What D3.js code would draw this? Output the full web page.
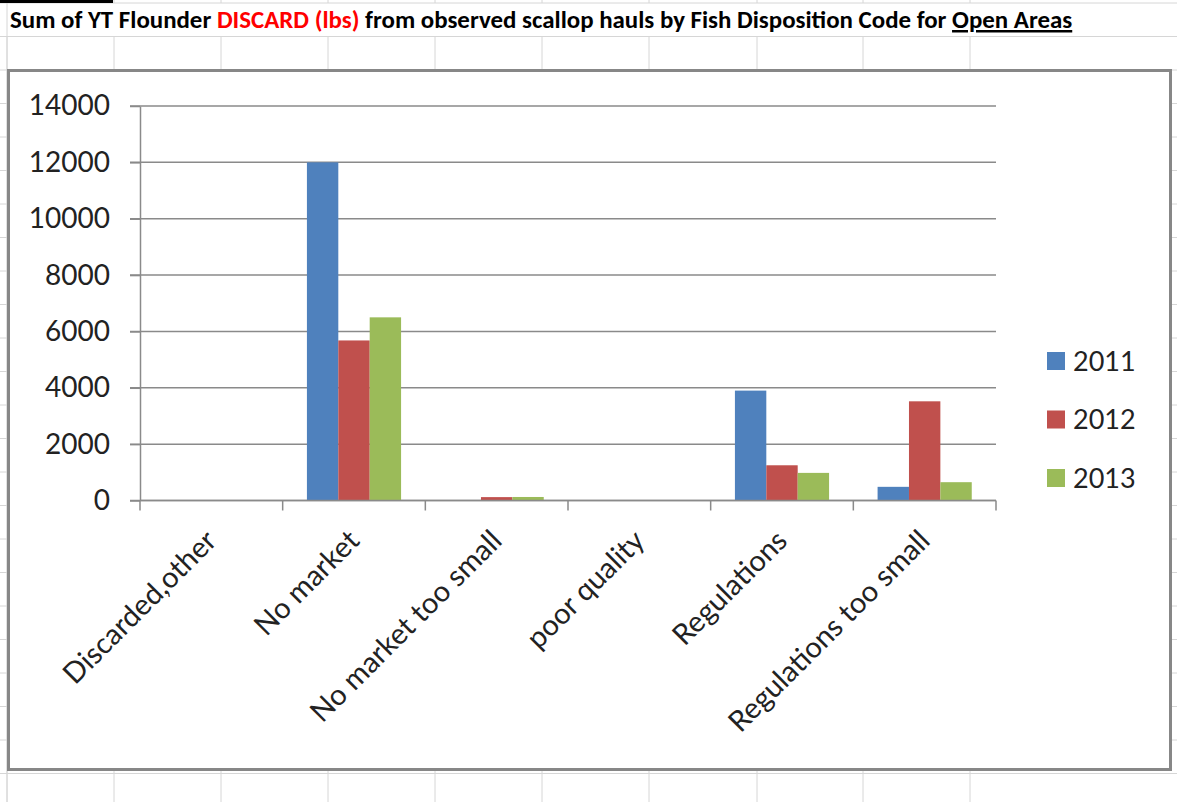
<!DOCTYPE html>
<html><head><meta charset="utf-8">
<script src="https://cdn.jsdelivr.net/npm/d3@7"></script>
<style>
html,body{margin:0;padding:0;background:#fff;}
svg{display:block;}
</style></head>
<body>
<svg id="c" width="1177" height="802"></svg>
<script>
// ---- data ----
const categories = ["Discarded,other","No market","No market too small","poor quality","Regulations","Regulations too small"];
const years = ["2011","2012","2013"];
const values2011 = [0, 12000, 0, 0, 3900, 485];
const values2012 = [0, 5680, 120, 0, 1250, 3520];
const values2013 = [0, 6500, 125, 0, 980, 650];
const yTicks = [0,2000,4000,6000,8000,10000,12000,14000];
const colors = ["#4F81BD","#C0504D","#9BBB59"];
const series = [values2011, values2012, values2013];

const svg = d3.select("#c");
const FONT = "Lato, 'Open Sans', sans-serif";

// ---- spreadsheet background ----
const colX = [7,114,221,328,435,542,649,757,863,970];
const rowH = 33.5;
const grid = svg.append("g").attr("stroke","#d6d6d6").attr("stroke-width",1);
for(let k=0;k<=24;k++){
  const yy = 3 + rowH*k;
  grid.append("line").attr("x1",0).attr("x2",1177).attr("y1",yy).attr("y2",yy);
}
colX.forEach((x)=>{
  grid.append("line").attr("x1",x).attr("x2",x).attr("y1",0).attr("y2",3);
  grid.append("line").attr("x1",x).attr("x2",x).attr("y1",36.5).attr("y2",802);
});
grid.append("line").attr("x1",7).attr("x2",7).attr("y1",0).attr("y2",802);
svg.append("rect").attr("x",0).attr("y",0).attr("width",113).attr("height",3).attr("fill","#000");

// ---- title ----
const title = svg.append("text").attr("x",10).attr("y",28)
  .attr("font-family","Carlito, Calibri, Lato, sans-serif").attr("font-weight","bold").attr("font-size",20).attr("fill","#000");
title.append("tspan").text("Sum of YT Flounder ");
title.append("tspan").attr("fill","#FF0000").text("DISCARD (lbs)");
title.append("tspan").text(" from observed scallop hauls by Fish Disposition Code for ");
title.append("tspan").attr("text-decoration","underline").text("Open Areas");
{
  const w = title.node().getComputedTextLength();
  title.attr("font-size", 20*1063/w);
}

// ---- chart box ----
svg.append("rect").attr("x",8.5).attr("y",70.5).attr("width",1162).attr("height",699)
  .attr("fill","#fff").attr("stroke","#878787").attr("stroke-width",3);

// ---- plot ----
const plotL = 140, plotR = 996, plotT = 106, plotB = 500.5;
const x0 = d3.scaleBand().domain(categories).range([plotL, plotR]).paddingInner(0).paddingOuter(0);
const groupW = x0.bandwidth()*0.66;
const x1 = d3.scaleBand().domain(years).range([0, groupW]).padding(0);
const y = d3.scaleLinear().domain([0,14000]).range([plotB, plotT]);

// gridlines
const gl = svg.append("g");
yTicks.forEach(t=>{
  gl.append("line").attr("x1",plotL-10).attr("x2",plotR).attr("y1",y(t)).attr("y2",y(t))
    .attr("stroke","#8a8a8a").attr("stroke-width",1.5);
});

// bars
years.forEach((yr,si)=>{
  svg.append("g").selectAll("rect").data(categories).join("rect")
    .attr("x",(c)=>x0(c) + (x0.bandwidth()-groupW)/2 + x1(yr))
    .attr("width",x1.bandwidth())
    .attr("y",(c,i)=>y(series[si][i]))
    .attr("height",(c,i)=>plotB - y(series[si][i]))
    .attr("fill",colors[si]);
});

// y axis
const yAxis = d3.axisLeft(y).tickValues(yTicks).tickSize(10).tickSizeOuter(0).tickPadding(20).tickFormat(d3.format("d"));
const ya = svg.append("g").attr("transform",`translate(${plotL},0)`).call(yAxis);
ya.select(".domain").attr("stroke","#8a8a8a").attr("stroke-width",1.5);
ya.selectAll(".tick line").attr("stroke","#8a8a8a").attr("stroke-width",1.5);
ya.selectAll(".tick text").attr("font-family",FONT).attr("font-size",28).attr("fill","#222");

// x axis
const xTickPos = d3.range(categories.length+1).map(i=>plotL + i*x0.bandwidth());
const xa = svg.append("g");
xa.append("line").attr("x1",plotL).attr("x2",plotR).attr("y1",plotB).attr("y2",plotB)
  .attr("stroke","#8a8a8a").attr("stroke-width",1.5);
xTickPos.forEach(px=>{
  xa.append("line").attr("x1",px).attr("x2",px).attr("y1",plotB).attr("y2",plotB+10)
    .attr("stroke","#8a8a8a").attr("stroke-width",1.5);
});
xa.selectAll("text.xl").data(categories).join("text").attr("class","xl")
  .attr("transform",c=>`translate(${x0(c)+x0.bandwidth()/2+7},${plotB+42}) rotate(-45)`)
  .attr("text-anchor","end")
  .attr("font-family",FONT).attr("font-size",29).attr("fill","#222")
  .text(c=>c);

// legend
const lg = svg.append("g");
years.forEach((yr,i)=>{
  const cy = 361 + i*58.5;
  lg.append("rect").attr("x",1047).attr("y",cy-9).attr("width",18).attr("height",18).attr("fill",colors[i]);
  lg.append("text").attr("x",1073).attr("y",cy).attr("dy","0.36em")
    .attr("font-family",FONT).attr("font-size",27).attr("fill","#222").text(yr);
});
</script>
</body></html>
